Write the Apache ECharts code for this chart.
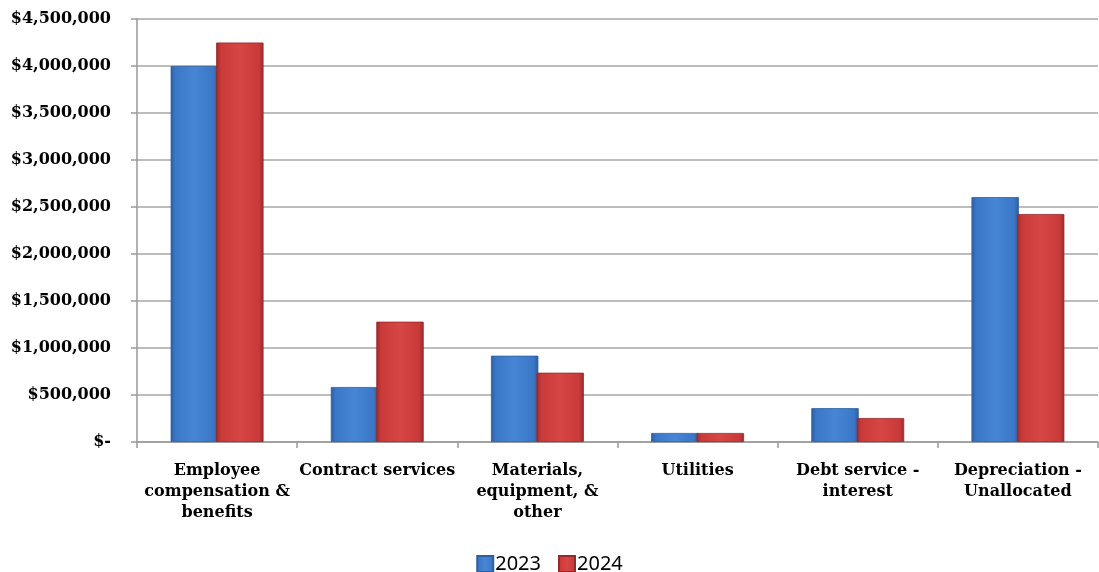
<!DOCTYPE html>
<html>
<head>
<meta charset="utf-8">
<title>Expenses 2023 vs 2024</title>
<script src="https://cdn.jsdelivr.net/npm/echarts@6/dist/echarts.min.js"></script>
<style>
    html, body {
        margin: 0;
        padding: 0;
        background: #ffffff;
    }
    #chart {
        width: 1099px;
        height: 572px;
    }
</style>
</head>
<body>
<div id="chart"></div>
<script>
// Chart data
const categories = [
    "Employee\ncompensation &\nbenefits",
    "Contract services",
    "Materials,\nequipment, &\nother",
    "Utilities",
    "Debt service -\ninterest",
    "Depreciation -\nUnallocated",
];
const seriesNames = ["2023", "2024"];
const values2023 = [4000000, 585000, 918000, 96000, 360000, 2605000];
const values2024 = [4250000, 1280000, 737000, 96000, 255000, 2425000];

const yMin = 0;
const yMax = 4500000;
const yStep = 500000;

// bevel-ish look: dark edges, lighter middle
function barGradient(dark, mid, light) {
    return new echarts.graphic.LinearGradient(0, 0, 1, 0, [
        { offset: 0, color: dark },
        { offset: 0.1, color: mid },
        { offset: 0.5, color: light },
        { offset: 0.9, color: mid },
        { offset: 1, color: dark },
    ]);
}

const blueFill = barGradient("#2c5c9e", "#3a77c7", "#4785d5");
const redFill = barGradient("#9e2a2a", "#c93a3a", "#d64644");

const chart = echarts.init(document.getElementById("chart"));

const options = {
    animation: false,
    legend: {
        data: seriesNames,
        bottom: -7,
        left: "center",
        itemWidth: 16,
        itemHeight: 16,
        itemGap: 17,
        icon: "rect",
        textStyle: {
            fontFamily: "Noto Sans",
            fontSize: 20,
            color: "#000",
            padding: [0, 0, 0, -3],
        },
    },
    grid: {
        left: 137,
        right: 1,
        top: 19,
        bottom: 130,
    },
    xAxis: {
        type: "category",
        data: categories,
        axisLine: {
            lineStyle: { color: "#999999", width: 1.5 },
        },
        axisTick: {
            show: true,
            length: 6,
            lineStyle: { color: "#999999", width: 1.5 },
        },
        axisLabel: {
            interval: 0,
            margin: 18,
            fontFamily: "DejaVu Serif",
            fontWeight: "bold",
            fontSize: 16,
            lineHeight: 21,
            color: "#000",
        },
    },
    yAxis: {
        type: "value",
        min: yMin,
        max: yMax,
        interval: yStep,
        axisLine: {
            show: true,
            lineStyle: { color: "#999999", width: 1.5 },
        },
        axisTick: {
            show: true,
            length: 6,
            lineStyle: { color: "#999999", width: 1.5 },
        },
        splitLine: {
            lineStyle: { color: "#a6a6a6", width: 1.5 },
        },
        axisLabel: {
            margin: 26,
            fontFamily: "DejaVu Serif",
            fontWeight: "bold",
            fontSize: 16,
            color: "#000",
            formatter: (v) => (v === 0 ? "$-" : "$" + v.toLocaleString("en-US")),
        },
    },
    series: [
        {
            name: seriesNames[0],
            type: "bar",
            barGap: "-4%",
            barCategoryGap: "42%",
            itemStyle: {
                color: blueFill,
                borderColor: "#2f5f9f",
                borderWidth: 0.8,
            },
            data: values2023,
        },
        {
            name: seriesNames[1],
            type: "bar",
            barGap: "-4%",
            barCategoryGap: "42%",
            itemStyle: {
                color: redFill,
                borderColor: "#962a2a",
                borderWidth: 0.8,
            },
            data: values2024,
        },
    ],
};

chart.setOption(options);
</script>
</body>
</html>
